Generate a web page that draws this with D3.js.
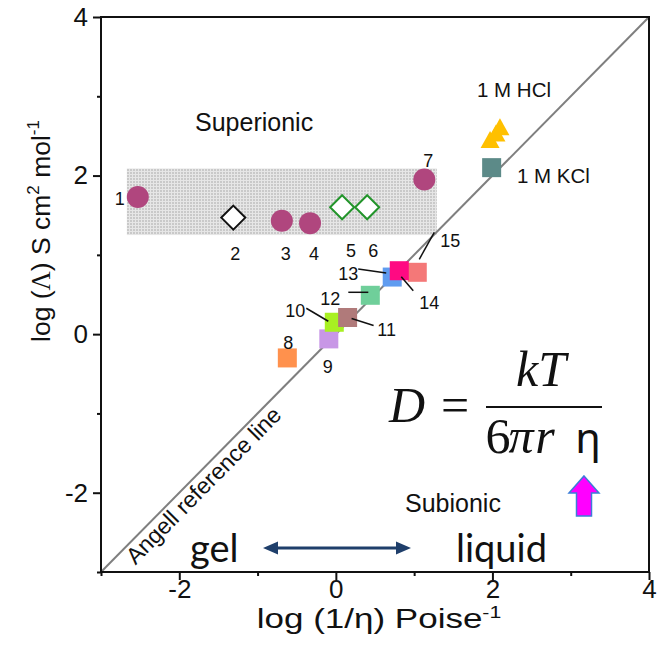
<!DOCTYPE html>
<html>
<head>
<meta charset="utf-8">
<script src="https://cdn.jsdelivr.net/npm/d3@7"></script>
<style>
  body { margin: 0; background: #fff; }
  svg { display: block; font-family: "Liberation Sans", Arial, sans-serif; }
  text { fill: #111; }
</style>
</head>
<body>
<svg id="chart" width="663" height="660"></svg>
<script>
// ---- axis ticks ----
const majorTicks = [-2, 0, 2, 4];
const minorTicks = [-3, -1, 1, 3];

// ---- shaded "superionic" band (x range, y range) ----
const bandX = [-2.67, 1.29];
const bandY = [1.25, 2.09];

// ---- samples 1-7 ----
const circleIds = ["1", "3", "4", "7"];
const circleX = [-2.53, -0.69, -0.33, 1.13];
const circleY = [1.73, 1.43, 1.40, 1.95];

const diamondIds = ["2", "5", "6"];
const diamondX = [-1.31, 0.08, 0.40];
const diamondY = [1.47, 1.60, 1.60];

// ---- samples 8-15 ----
const squareIds = ["8", "9", "10", "11", "12", "13", "15", "14"];
const squareX = [-0.62, -0.09, -0.02, 0.15, 0.44, 0.72, 1.04, 0.81];
const squareY = [-0.30, -0.06, 0.15, 0.21, 0.49, 0.72, 0.78, 0.80];

// ---- aqueous references ----
const hclX = [1.97, 2.045, 2.096];
const hclY = [2.42, 2.50, 2.58];
const kclX = [1.99];
const kclY = [2.10];

// ---- Angell ideal line (log Λ = log 1/η) ----
const angellX = [-3, 4];
const angellY = [-3, 4];

// colours
const squareColors = {
  "8": "#ff914d", "9": "#c897e6", "10": "#a8f022", "11": "#b07a7a",
  "12": "#6fcf9a", "13": "#5f9cf0", "14": "#ff0a82", "15": "#f47878"
};
const diamondStroke = { "2": "#111", "5": "#22942a", "6": "#22942a" };

const svg = d3.select("#chart");
const x = d3.scaleLinear().domain([-3, 4]).range([101, 649]);
const y = d3.scaleLinear().domain([-3, 4]).range([572, 17]);

// mesh pattern for the band
const defs = svg.append("defs");
const pat = defs.append("pattern").attr("id", "mesh")
  .attr("width", 3).attr("height", 3).attr("patternUnits", "userSpaceOnUse");
pat.append("rect").attr("width", 3).attr("height", 3).attr("fill", "#c9c9c9");
pat.append("rect").attr("width", 3).attr("height", 1).attr("fill", "#e6e6e6");
pat.append("rect").attr("width", 1).attr("height", 3).attr("fill", "#e6e6e6");

svg.append("rect")
  .attr("x", x(bandX[0])).attr("y", y(bandY[1]))
  .attr("width", x(bandX[1]) - x(bandX[0]))
  .attr("height", y(bandY[0]) - y(bandY[1]))
  .attr("fill", "url(#mesh)");

// Angell line
svg.append("line")
  .attr("x1", x(angellX[0])).attr("y1", y(angellY[0]))
  .attr("x2", x(angellX[1])).attr("y2", y(angellY[1]))
  .attr("stroke", "#7f7f7f").attr("stroke-width", 2);

// frame
svg.append("rect")
  .attr("x", x(-3)).attr("y", y(4))
  .attr("width", x(4) - x(-3)).attr("height", y(-3) - y(4))
  .attr("fill", "none").attr("stroke", "#111").attr("stroke-width", 2);

// axes
const fmt = d => String(d);
const gx = svg.append("g").attr("transform", `translate(0,${y(-3)})`)
  .call(d3.axisBottom(x).tickValues(majorTicks).tickSize(8).tickPadding(0).tickFormat(fmt));
const gxm = svg.append("g").attr("transform", `translate(0,${y(-3)})`)
  .call(d3.axisBottom(x).tickValues(minorTicks).tickSize(4).tickFormat(""));
const gy = svg.append("g").attr("transform", `translate(${x(-3)},0)`)
  .call(d3.axisLeft(y).tickValues(majorTicks).tickSize(8).tickPadding(5).tickFormat(fmt));
const gym = svg.append("g").attr("transform", `translate(${x(-3)},0)`)
  .call(d3.axisLeft(y).tickValues(minorTicks).tickSize(4).tickFormat(""));
[gx, gxm, gy, gym].forEach(g => {
  g.select(".domain").remove();
  g.selectAll(".tick line").attr("stroke", "#111").attr("stroke-width", 2);
  g.selectAll(".tick text").style("font-size", "26px").style("fill", "#111")
    .style("font-family", "Liberation Sans, Arial, sans-serif");
});

// axis titles
const xt = svg.append("text")
  .attr("transform", "translate(379,628) scale(1.25,1)")
  .attr("text-anchor", "middle").style("font-size", "28px");
xt.append("tspan").text("log (1/η) Poise");
xt.append("tspan").style("font-size", "17px").attr("dy", -10).text("-1");

const yt = svg.append("text")
  .attr("transform", "translate(50,231) rotate(-90)")
  .attr("text-anchor", "middle").style("font-size", "26.5px");
yt.append("tspan").text("log (");
yt.append("tspan").style("font-family", "Liberation Serif, serif").text("Λ");
yt.append("tspan").text(") S cm");
yt.append("tspan").style("font-size", "17px").attr("dy", -11).text("2");
yt.append("tspan").attr("dy", 11).text(" mol");
yt.append("tspan").style("font-size", "17px").attr("dy", -11).text("-1");

// region labels
svg.append("text").attr("x", 195).attr("y", 131).style("font-size", "25px").text("Superionic");
svg.append("text").attr("x", 405).attr("y", 512).style("font-size", "25px").text("Subionic");

// Angell line caption, laid along the line just below it
{
  const t = -1.8, off = 20;
  const rad = Math.atan2(y(4) - y(-3), x(4) - x(-3));
  const ang = rad * 180 / Math.PI;
  const px = x(t) - Math.sin(rad) * off, py = y(t) + Math.cos(rad) * off;
  svg.append("text")
    .attr("transform", `translate(${px},${py}) rotate(${ang})`)
    .attr("text-anchor", "middle").style("font-size", "23px")
    .text("Angell reference line");
}

// band markers
svg.selectAll("circle.s").data(circleIds).join("circle")
  .attr("cx", (d, i) => x(circleX[i])).attr("cy", (d, i) => y(circleY[i]))
  .attr("r", 11).attr("fill", "#b0467e");

const diamond = s => `M0,${-s}L${s},0L0,${s}L${-s},0Z`;
svg.selectAll("path.dia").data(diamondIds).join("path")
  .attr("transform", (d, i) => `translate(${x(diamondX[i])},${y(diamondY[i])})`)
  .attr("d", diamond(12)).attr("fill", "#fff")
  .attr("stroke", d => diamondStroke[d]).attr("stroke-width", 2);

// squares 8-15
const sq = 19;
svg.selectAll("rect.sq").data(squareIds).join("rect")
  .attr("x", (d, i) => x(squareX[i]) - sq / 2).attr("y", (d, i) => y(squareY[i]) - sq / 2)
  .attr("width", sq).attr("height", sq).attr("fill", d => squareColors[d]);

// HCl triangles
const tri = (w, h) => `M0,${-2 * h / 3}L${w},${h / 3}L${-w},${h / 3}Z`;
svg.selectAll("path.hcl").data(hclX).join("path")
  .attr("transform", (d, i) => `translate(${x(hclX[i])},${y(hclY[i])})`)
  .attr("d", tri(9.5, 17)).attr("fill", "#ffc000");

// KCl square
svg.selectAll("rect.kcl").data(kclX).join("rect")
  .attr("x", (d, i) => x(kclX[i]) - 9.5).attr("y", (d, i) => y(kclY[i]) - 9.5)
  .attr("width", 19).attr("height", 19).attr("fill", "#5c8a88");

svg.append("text").attr("x", 477).attr("y", 97).style("font-size", "20.5px").text("1 M HCl");
svg.append("text").attr("x", 517).attr("y", 183).style("font-size", "20.5px").text("1 M KCl");

// sample number labels (offset from their marker, px)
const numLabel = (id, cx, cy, dx, dy) =>
  svg.append("text").attr("x", cx + dx).attr("y", cy + dy + 6.5)
    .attr("text-anchor", "middle").style("font-size", "18px").text(id);
const labelOffsets = {
  "1": [-18, 2], "2": [2, 36], "3": [4, 33], "4": [4, 30], "5": [9, 43], "6": [6, 43], "7": [4, -19]
};
circleIds.forEach((id, i) => numLabel(id, x(circleX[i]), y(circleY[i]), ...labelOffsets[id]));
diamondIds.forEach((id, i) => numLabel(id, x(diamondX[i]), y(diamondY[i]), ...labelOffsets[id]));

const sqLabel = {
  "8": [1, -15], "9": [-1, 28], "10": [-39, -12], "11": [39, 12], "12": [-40, 3],
  "13": [-44, -4], "14": [30, 32], "15": [33, -32]
};
// leader lines: start/end relative to marker centre
const sqLeader = {
  "10": [[-28, -14], [-6, -1]], "11": [[4, 1], [26, 8]], "12": [[-22, -3], [-2, -3]],
  "13": [[-34, -8], [-6, -4]], "14": [[2, 6], [14, 20]], "15": [[17, -40], [2, -13]]
};
squareIds.forEach((id, i) => {
  const cx = x(squareX[i]), cy = y(squareY[i]);
  numLabel(id, cx, cy, ...sqLabel[id]);
  if (sqLeader[id]) {
    const [a, b] = sqLeader[id];
    svg.append("line").attr("x1", cx + a[0]).attr("y1", cy + a[1])
      .attr("x2", cx + b[0]).attr("y2", cy + b[1])
      .attr("stroke", "#111").attr("stroke-width", 1.5);
  }
});

// Stokes–Einstein relation
const serif = "Liberation Serif, 'Times New Roman', serif";
const eq = (tx, ty, anchor) => svg.append("text").attr("x", tx).attr("y", ty)
  .attr("text-anchor", anchor).style("font-family", serif).style("font-size", "50px");
eq(389, 422, "start").style("font-style", "italic").text("D");
eq(455, 422, "middle").text("=");
svg.append("line").attr("x1", 486).attr("x2", 602).attr("y1", 407).attr("y2", 407)
  .attr("stroke", "#111").attr("stroke-width", 2.2);
eq(541, 386, "middle").style("font-style", "italic").text("kT");
eq(498, 453, "middle").text("6");
eq(521, 453, "middle").style("font-style", "italic").text("π");
eq(545, 453, "middle").style("font-style", "italic").text("r");
eq(588, 453, "middle").style("font-family", "'Noto Sans', sans-serif").style("font-size", "42px").text("η");

// magenta arrow under η
{
  const cx = 584, tip = 476, hb = 493, bot = 516, hw = 15, sw = 7.5;
  svg.append("path")
    .attr("d", `M${cx},${tip}L${cx + hw},${hb}L${cx + sw},${hb}L${cx + sw},${bot}L${cx - sw},${bot}L${cx - sw},${hb}L${cx - hw},${hb}Z`)
    .attr("fill", "#ff00ff").attr("stroke", "#3b7dd8").attr("stroke-width", 1.5);
}

// gel <-> liquid
const hum = "Lato, 'Open Sans', sans-serif";
svg.append("text").attr("x", 190).attr("y", 562).style("font-family", hum)
  .style("font-size", "38px").text("gel");
svg.append("text").attr("x", 456).attr("y", 562).style("font-family", hum)
  .style("font-size", "38px").text("liquid");
{
  const ay = 548, x1 = 263, x2 = 411, hl = 15, hh = 6.5;
  svg.append("line").attr("x1", x1 + hl - 2).attr("x2", x2 - hl + 2).attr("y1", ay).attr("y2", ay)
    .attr("stroke", "#1f3f6b").attr("stroke-width", 3);
  svg.append("path").attr("d", `M${x1},${ay}L${x1 + hl},${ay - hh}L${x1 + hl},${ay + hh}Z`).attr("fill", "#1f3f6b");
  svg.append("path").attr("d", `M${x2},${ay}L${x2 - hl},${ay - hh}L${x2 - hl},${ay + hh}Z`).attr("fill", "#1f3f6b");
}
</script>
</body>
</html>
